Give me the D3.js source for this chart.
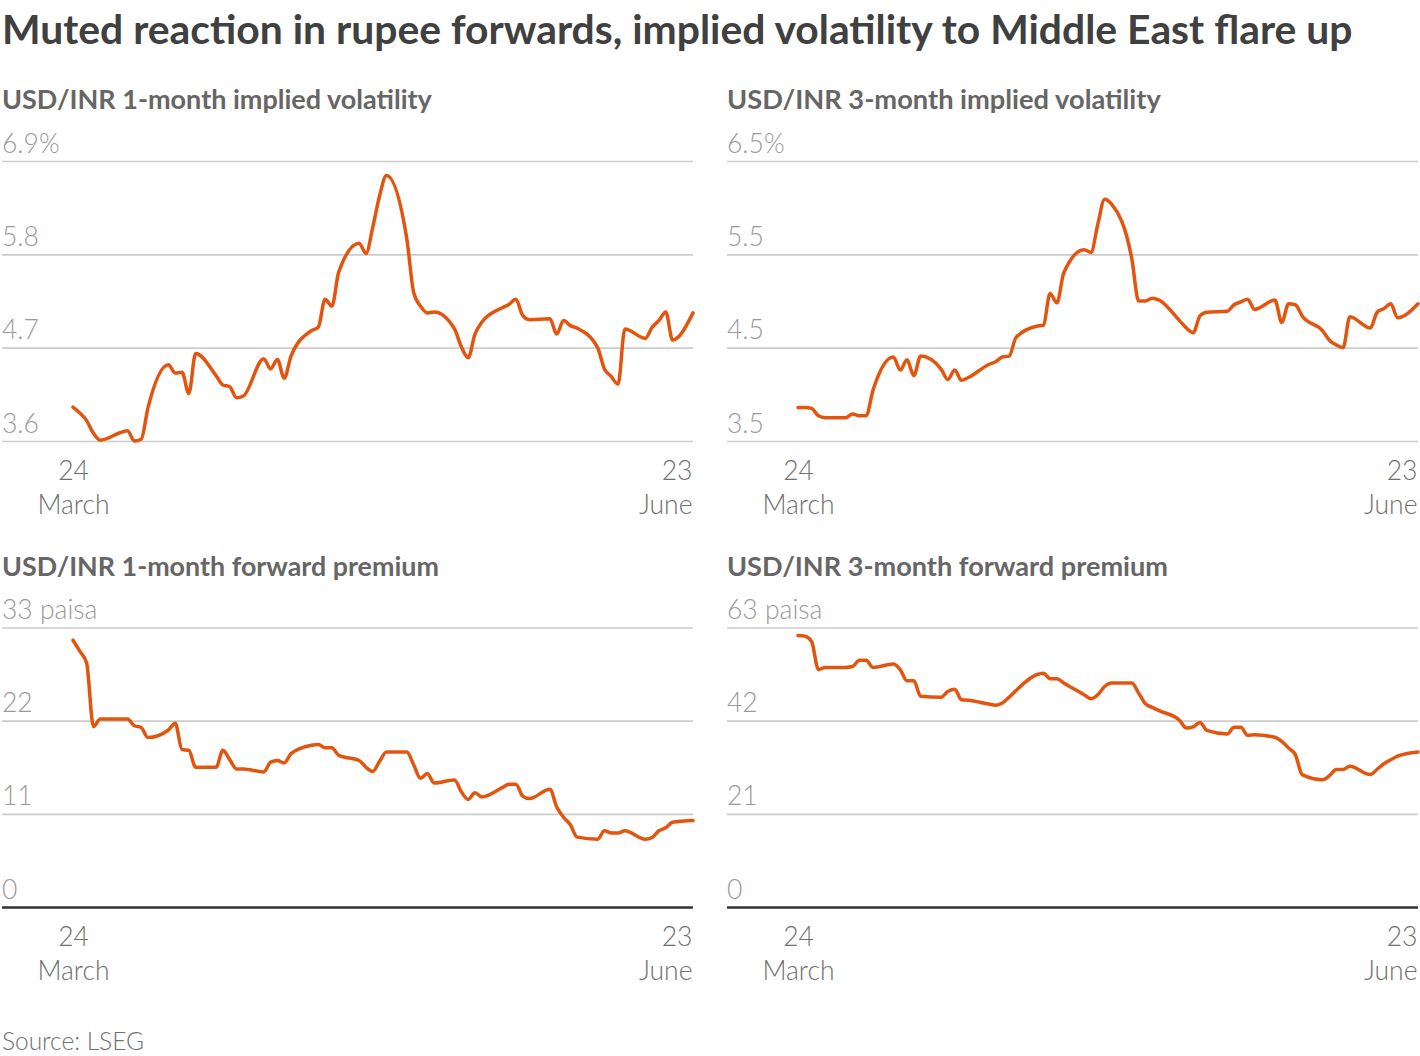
<!DOCTYPE html>
<html>
<head>
<meta charset="utf-8">
<script src="https://cdn.jsdelivr.net/npm/d3@7"></script>
<style>
  body { margin: 0; background: #fff; }
  svg { display: block; }
  text { font-family: "Lato", "Noto Sans", sans-serif; }
</style>
</head>
<body>
<div id="chart"></div>
<script>
// trading days shown in every panel
const dates = [
  "2025-03-24", "2025-03-25", "2025-03-26", "2025-03-27", "2025-03-28",
  "2025-03-31", "2025-04-01", "2025-04-02", "2025-04-03", "2025-04-04",
  "2025-04-07", "2025-04-08", "2025-04-09", "2025-04-10", "2025-04-11",
  "2025-04-14", "2025-04-15", "2025-04-16", "2025-04-17", "2025-04-18",
  "2025-04-21", "2025-04-22", "2025-04-23", "2025-04-24", "2025-04-25",
  "2025-04-28", "2025-04-29", "2025-04-30", "2025-05-01", "2025-05-02",
  "2025-05-05", "2025-05-06", "2025-05-07", "2025-05-08", "2025-05-09",
  "2025-05-12", "2025-05-13", "2025-05-14", "2025-05-15", "2025-05-16",
  "2025-05-19", "2025-05-20", "2025-05-21", "2025-05-22", "2025-05-23",
  "2025-05-26", "2025-05-27", "2025-05-28", "2025-05-29", "2025-05-30",
  "2025-06-02", "2025-06-03", "2025-06-04", "2025-06-05", "2025-06-06",
  "2025-06-09", "2025-06-10", "2025-06-11", "2025-06-12", "2025-06-13",
  "2025-06-16", "2025-06-17", "2025-06-18", "2025-06-19", "2025-06-20",
  "2025-06-23"
];

// USD/INR 1-month implied volatility, %
const vol1m = [
  4.00, 3.93, 3.84, 3.69, 3.61,
  3.70, 3.72, 3.60, 3.62, 3.99,
  4.50, 4.40, 4.41, 4.16, 4.63,
  4.37, 4.26, 4.24, 4.11, 4.13,
  4.57, 4.45, 4.56, 4.34, 4.60,
  4.90, 4.94, 5.27, 5.19, 5.59,
  5.93, 5.81, 6.12, 6.49, 6.73,
  5.98, 5.35, 5.19, 5.11, 5.12,
  4.92, 4.71, 4.58, 4.86, 5.00,
  5.17, 5.21, 5.27, 5.08, 5.03,
  5.04, 4.86, 5.02, 4.96, 4.93,
  4.70, 4.45, 4.36, 4.27, 4.92,
  4.81, 4.94, 5.02, 5.12, 4.79,
  5.11
];

// USD/INR 3-month implied volatility, %
const vol3m = [
  3.86, 3.86, 3.85, 3.77, 3.75,
  3.75, 3.79, 3.77, 3.77, 4.04,
  4.40, 4.26, 4.37, 4.20, 4.41,
  4.27, 4.16, 4.26, 4.15, 4.18,
  4.32, 4.35, 4.40, 4.41, 4.61,
  4.73, 4.74, 5.08, 4.98, 5.30,
  5.55, 5.52, 5.82, 6.09, 6.04,
  5.45, 5.00, 5.00, 5.03, 5.01,
  4.79, 4.71, 4.66, 4.84, 4.88,
  4.89, 4.96, 4.99, 5.02, 4.91,
  5.01, 4.77, 4.97, 4.96, 4.84,
  4.68, 4.58, 4.53, 4.50, 4.83,
  4.71, 4.88, 4.92, 4.97, 4.82,
  4.97
];

// USD/INR 1-month forward premium, paisa
const fwd1m = [
  31.5, 30.2, 28.8, 21.3, 22.2,
  22.2, 22.2, 21.4, 21.2, 20.0,
  20.9, 21.7, 18.6, 18.5, 16.5,
  16.5, 18.5, 17.4, 16.3, 16.3,
  15.95, 17.1, 17.3, 17.0, 18.1,
  19.1, 19.2, 18.8, 18.8, 17.9,
  17.3, 16.5, 16.0, 17.2, 18.3,
  18.3, 16.8, 15.2, 15.75, 14.65,
  15.0, 13.6, 12.7, 13.5, 13.0,
  14.1, 14.5, 14.5, 13.1, 12.8,
  13.9, 11.8, 10.6, 9.7, 8.25,
  8.0, 9.0, 8.75, 8.75, 9.0,
  8.0, 8.2, 9.0, 9.35, 10.0,
  10.2
];

// USD/INR 3-month forward premium, paisa
const fwd3m = [
  61.2, 61.05, 59.85, 53.5, 54.0,
  54.0, 54.2, 55.6, 55.6, 54.0,
  54.75, 53.5, 51.0, 51.0, 47.5,
  47.3, 48.6, 49.1, 46.7, 46.6,
  45.75, 45.5, 46.0, 47.3, 48.8,
  52.35, 52.7, 51.45, 51.45, 50.5,
  47.85, 46.95, 47.85, 49.7, 50.5,
  50.5, 48.2, 45.8, 45.0, 44.25,
  42.1, 40.35, 40.6, 41.6, 39.8,
  39.0, 40.5, 40.5, 38.7, 38.85,
  38.25, 37.35, 35.85, 34.35, 29.85,
  28.7, 29.6, 31.0, 31.0, 31.7,
  29.85, 31.05, 32.3, 33.2, 34.0,
  34.95
];

const vol1mTicks = [3.6, 4.7, 5.8, 6.9];
const vol3mTicks = [3.5, 4.5, 5.5, 6.5];
const fwd1mTicks = [0, 11, 22, 33];
const fwd3mTicks = [0, 21, 42, 63];

const chartTitle = "Muted reaction in rupee forwards, implied volatility to Middle East flare up";
const panelTitles = [
  "USD/INR 1-month implied volatility",
  "USD/INR 3-month implied volatility",
  "USD/INR 1-month forward premium",
  "USD/INR 3-month forward premium"
];
const topSuffix = ["%", "%", " paisa", " paisa"];
const xLabels = [["24", "March"], ["23", "June"]];
const sourceText = "Source: LSEG";

const width = 1420, height = 1056;
const lineColor = "#e3550f";
const parseDate = d3.timeParse("%Y-%m-%d");
const days = dates.map(parseDate);

const svg = d3.select("#chart").append("svg")
  .attr("width", width)
  .attr("height", height);

// fit a text element to a target width by adjusting its font size
function fitWidth(sel, target) {
  const w = sel.node().getComputedTextLength();
  const fs = parseFloat(sel.attr("font-size"));
  sel.attr("font-size", (fs * target / w).toFixed(2));
}

const title = svg.append("text")
  .attr("x", 2).attr("y", 44)
  .attr("font-size", 36)
  .attr("font-weight", 700)
  .attr("fill", "#404040")
  .text(chartTitle);
fitWidth(title, 1351);

const cols = [
  { x0: 2, x1: 693, lineX0: 73 },
  { x0: 727, x1: 1418, lineX0: 798 }
];
const rows = [
  { titleY: 109, top: 161, bottom: 441, tickY: 480, monthY: 514, baseline: false },
  { titleY: 576, top: 627.5, bottom: 907, tickY: 946, monthY: 980, baseline: true }
];

const panels = [
  { values: vol1m, ticks: vol1mTicks, col: 0, row: 0 },
  { values: vol3m, ticks: vol3mTicks, col: 1, row: 0 },
  { values: fwd1m, ticks: fwd1mTicks, col: 0, row: 1 },
  { values: fwd3m, ticks: fwd3mTicks, col: 1, row: 1 }
];

panels.forEach(function(p, i) {
  const c = cols[p.col], r = rows[p.row];
  const g = svg.append("g");

  const t = g.append("text")
    .attr("x", c.x0).attr("y", r.titleY)
    .attr("font-size", 25)
    .attr("font-weight", 700)
    .attr("fill", "#666")
    .text(panelTitles[i]);
  fitWidth(t, i % 2 === 0 ? (i === 0 ? 430 : 437) : (i === 1 ? 434 : 441));

  const x = d3.scaleTime()
    .domain(d3.extent(days))
    .range([c.lineX0, c.x1]);

  const y = d3.scaleLinear()
    .domain(d3.extent(p.ticks))
    .range([r.bottom, r.top]);

  const top = d3.max(p.ticks);

  // gridlines + labels
  const yAxis = g.append("g")
    .attr("transform", `translate(${c.x0},0)`)
    .call(d3.axisRight(y)
      .tickValues(p.ticks)
      .tickSize(c.x1 - c.x0)
      .tickFormat(d => d === top ? d + topSuffix[i] : d));
  yAxis.select(".domain").remove();
  yAxis.selectAll(".tick line")
    .attr("stroke", (d) => (r.baseline && d === 0) ? "#333" : "#ccc")
    .attr("stroke-width", (d) => (r.baseline && d === 0) ? 2.5 : 1.6);
  yAxis.selectAll(".tick text")
    .attr("x", 0)
    .attr("dy", 0)
    .attr("y", -9)
    .attr("text-anchor", "start")
    .attr("font-family", "Lato, sans-serif")
    .attr("font-weight", 300)
    .attr("font-size", 26.5)
    .attr("fill", "#9a9a9a");

  // x labels
  const xAxis = g.append("g")
    .attr("transform", `translate(0,${r.tickY})`)
    .call(d3.axisBottom(x)
      .tickValues([days[0], days[days.length - 1]])
      .tickSize(0)
      .tickFormat(""));
  xAxis.select(".domain").remove();
  xAxis.selectAll(".tick text").remove();
  xAxis.selectAll(".tick").each(function(d, k) {
    const txt = d3.select(this).append("text")
      .attr("text-anchor", k === 0 ? "middle" : "end")
      .attr("font-family", "Lato, sans-serif")
      .attr("font-weight", 300)
      .attr("font-size", 26.5)
      .attr("fill", "#707070");
    txt.append("tspan").attr("x", k === 0 ? 0 : -1).attr("y", 0).text(xLabels[k][0]);
    txt.append("tspan").attr("x", k === 0 ? 0 : -1).attr("y", r.monthY - r.tickY).text(xLabels[k][1]);
  });

  const line = d3.line()
    .x((d, k) => x(days[k]))
    .y(d => y(d))
    .curve(d3.curveMonotoneX);

  g.append("path")
    .datum(p.values)
    .attr("d", line)
    .attr("fill", "none")
    .attr("stroke", lineColor)
    .attr("stroke-width", 3.5)
    .attr("stroke-linejoin", "round")
    .attr("stroke-linecap", "round");
});

svg.append("text")
  .attr("x", 2).attr("y", 1050)
  .attr("font-size", 24.5)
  .attr("font-weight", 300)
  .attr("fill", "#707070")
  .text(sourceText);
</script>
</body>
</html>
